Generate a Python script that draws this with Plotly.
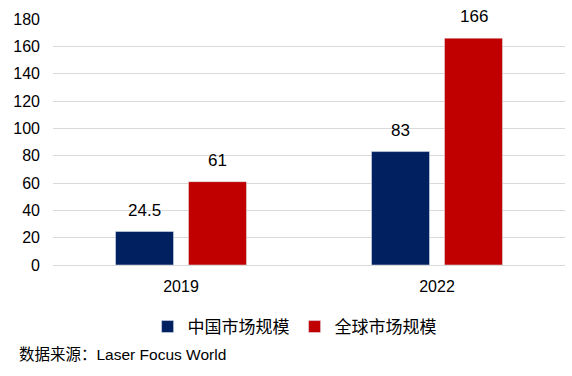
import plotly.graph_objects as go

years = ["2019", "2022"]
china = [24.5, 83]
world = [61, 166]
china_labels = ["24.5", "83"]
world_labels = ["61", "166"]
series_names = ["中国市场规模", "全球市场规模"]
y_ticks = [0, 20, 40, 60, 80, 100, 120, 140, 160, 180]

FONT = "Liberation Sans, Noto Sans CJK SC, sans-serif"
NAVY = "#002060"
RED = "#C00000"

W, H = 572, 376
ML, MR, MT, MB = 53, 7, 19, 111
PW, PH = W - ML - MR, H - MT - MB

fig = go.Figure()
fig.add_trace(go.Bar(x=years, y=china, name=series_names[0], marker_color=NAVY))
fig.add_trace(go.Bar(x=years, y=world, name=series_names[1], marker_color=RED))

annotations = []
for i, yr in enumerate(years):
    for vals, labs, shift in ((china, china_labels, -36.5), (world, world_labels, 36.5)):
        annotations.append(dict(
            x=i, y=vals[i], text=labs[i], xref="x", yref="y",
            xshift=shift, yshift=10, yanchor="bottom", showarrow=False,
            font=dict(family=FONT, size=17, color="#000000")))
annotations.append(dict(
    x=(17 - ML) / PW, y=(H - MB - 355) / PH, xref="paper", yref="paper",
    text="数据来源：Laser Focus World",
    showarrow=False, xanchor="left", yanchor="middle",
    font=dict(family=FONT, size=15.5, color="#000000")))

fig.update_layout(
    width=W, height=H,
    margin=dict(l=ML, r=MR, t=MT, b=MB),
    paper_bgcolor="white", plot_bgcolor="white",
    barmode="group", bargap=0.43, bargroupgap=0.205,
    font=dict(family=FONT, size=16, color="#000000"),
    showlegend=True,
    legend=dict(orientation="h", xref="container", yref="container",
                x=0.515, y=1 - 327/376, xanchor="center", yanchor="middle",
                font=dict(family=FONT, size=17), itemwidth=30,
                traceorder="normal"),
    annotations=annotations,
)
fig.update_xaxes(type="category", range=[-0.5, 1.5], showgrid=False,
                 showline=False, ticks="", tickfont=dict(size=16),
                 ticklabelstandoff=10)
fig.update_yaxes(range=[0, 180], tickvals=y_ticks, showgrid=True,
                 gridcolor="#d9d9d9", gridwidth=1, zeroline=True,
                 zerolinecolor="#d9d9d9", zerolinewidth=1, showline=False,
                 ticks="", ticklabelstandoff=12, tickfont=dict(size=16))

fig.write_html("out.html", config={"displayModeBar": False},
               post_script="document.body.style.margin='0';")
